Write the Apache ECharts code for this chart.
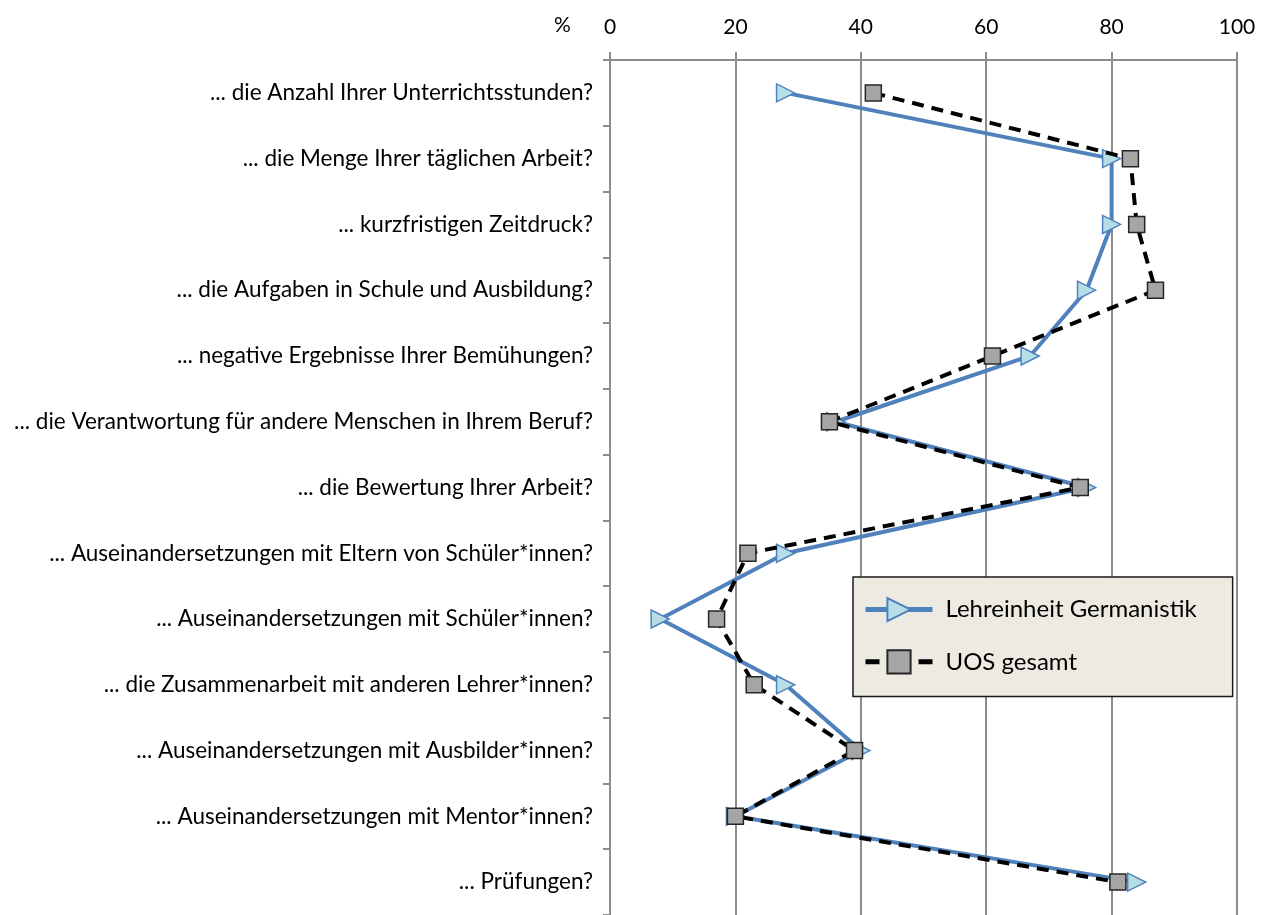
<!DOCTYPE html>
<html>
<head>
<meta charset="utf-8">
<script src="https://cdn.jsdelivr.net/npm/echarts@6/dist/echarts.min.js"></script>
<style>
  html, body { margin: 0; padding: 0; background: #fff; }
  #chart { width: 1269px; height: 915px; }
</style>
</head>
<body>
<div id="chart"></div>
<script>
// Survey items (top to bottom)
const categories = [
  '... die Anzahl Ihrer Unterrichtsstunden?',
  '... die Menge Ihrer täglichen Arbeit?',
  '... kurzfristigen Zeitdruck?',
  '... die Aufgaben in Schule und Ausbildung?',
  '... negative Ergebnisse Ihrer Bemühungen?',
  '... die Verantwortung für andere Menschen in Ihrem Beruf?',
  '... die Bewertung Ihrer Arbeit?',
  '... Auseinandersetzungen mit Eltern von Schüler*innen?',
  '... Auseinandersetzungen mit Schüler*innen?',
  '... die Zusammenarbeit mit anderen Lehrer*innen?',
  '... Auseinandersetzungen mit Ausbilder*innen?',
  '... Auseinandersetzungen mit Mentor*innen?',
  '... Prüfungen?'
];

// Percent values per item
const germanistik = [28, 80, 80, 76, 67, 36, 76, 28, 8, 28, 40, 20, 84];
const uosGesamt   = [42, 83, 84, 87, 61, 35, 75, 22, 17, 23, 39, 20, 81];

const seriesNames = ['Lehreinheit Germanistik', 'UOS gesamt'];
const xTicks = { min: 0, max: 100, interval: 20 };

const FONT = 'Lato, "Open Sans", sans-serif';
const chart = echarts.init(document.getElementById('chart'), null, { renderer: 'canvas' });

chart.setOption({
  animation: false,
  backgroundColor: '#ffffff',
  textStyle: { fontFamily: FONT },
  grid: { left: 610, right: 32, top: 60, height: 861, containLabel: false },
  graphic: [{
    type: 'text', left: 554, top: 15,
    style: { text: '%', fontSize: 21, fontFamily: FONT, fill: '#000' }
  }],
  legend: {
    orient: 'vertical',
    left: 853, top: 577,
    data: [
      { name: seriesNames[0] },
      // one dash either side of the square marker
      { name: seriesNames[1], lineStyle: { type: [14, 39], width: 5 } }
    ],
    backgroundColor: '#EDEBE1',
    borderColor: '#1a1a1a',
    borderWidth: 1.5,
    borderRadius: 0,
    padding: [20, 36, 22, 10],
    itemWidth: 67,
    itemHeight: 29,
    itemGap: 27,
    lineStyle: { width: 5 },
    textStyle: { fontSize: 24, color: '#000', fontFamily: FONT, padding: [0, 0, 0, 8], width: 270 }
  },
  xAxis: {
    type: 'value',
    position: 'top',
    min: xTicks.min, max: xTicks.max, interval: xTicks.interval,
    axisLine: { show: true, lineStyle: { color: '#8c8c8c', width: 2 } },
    axisTick: { show: true, length: 8, lineStyle: { color: '#8c8c8c', width: 2 } },
    axisLabel: { fontSize: 21, color: '#000', margin: 22, fontFamily: FONT },
    splitLine: { show: true, lineStyle: { color: '#8c8c8c', width: 2 } }
  },
  yAxis: {
    type: 'category',
    inverse: true,
    data: categories,
    axisLine: { show: true, lineStyle: { color: '#8c8c8c', width: 2 } },
    axisTick: { show: true, length: 7, lineStyle: { color: '#8c8c8c', width: 2 } },
    axisLabel: { fontSize: 22.5, color: '#000', margin: 17, fontFamily: FONT },
    splitLine: { show: false }
  },
  series: [
    {
      name: seriesNames[0],
      type: 'line',
      data: germanistik,
      symbol: 'triangle',
      symbolRotate: -90,
      symbolSize: [18, 18],
      lineStyle: { color: '#4F81BD', width: 4 },
      itemStyle: { color: '#B7DEE8', borderColor: '#4F81BD', borderWidth: 1.5 },
      z: 2
    },
    {
      name: seriesNames[1],
      type: 'line',
      data: uosGesamt,
      symbol: 'rect',
      symbolSize: 16,
      lineStyle: { color: '#000', width: 4, type: [12, 8] },
      itemStyle: { color: '#A5A5A5', borderColor: '#262626', borderWidth: 1.5 },
      z: 3
    }
  ]
});
</script>
</body>
</html>
